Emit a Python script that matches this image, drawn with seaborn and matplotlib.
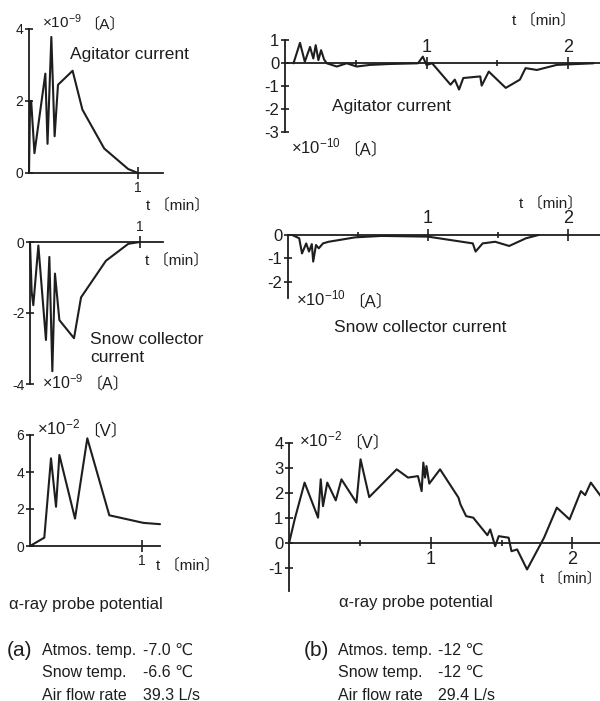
import numpy as np
import pandas as pd
import matplotlib
matplotlib.use("Agg")
import matplotlib.pyplot as plt
import seaborn as sns

# ---------------- data ----------------
# (a) agitator current  [x1e-9 A]
a_agit_t = [0.0, 0.01, 0.02, 0.05, 0.15, 0.17, 0.205, 0.235, 0.266, 0.40, 0.49, 0.69, 0.91, 1.0]
a_agit_v = [0.0, 2.0, 2.0, 0.55, 2.76, 0.81, 3.78, 1.02, 2.45, 2.84, 1.76, 0.68, 0.11, 0.0]
# (a) snow collector current [x1e-9 A]
a_snow_t = [0.0, 0.015, 0.03, 0.076, 0.145, 0.176, 0.203, 0.227, 0.267, 0.40, 0.464, 0.69, 0.894, 1.0]
a_snow_v = [0.0, -1.4, -1.78, -0.1, -2.76, -0.42, -3.64, -0.89, -2.2, -2.71, -1.56, -0.53, -0.05, 0.0]
# (a) alpha-ray probe potential [x1e-2 V]
a_alpha_t = [0.0, 0.128, 0.188, 0.233, 0.263, 0.403, 0.513, 0.71, 1.015, 1.164]
a_alpha_v = [0.0, 0.45, 4.74, 2.12, 4.92, 1.48, 5.82, 1.66, 1.25, 1.18]

# (b) agitator current [x1e-10 A]
b_agit_t = [0.06, 0.106, 0.14, 0.177, 0.2, 0.217, 0.236, 0.255, 0.276, 0.295, 0.366, 0.436,
            0.507, 0.6, 0.74, 0.94, 0.974, 1.0, 1.04, 1.17, 1.2, 1.23, 1.26, 1.38, 1.39, 1.44,
            1.56, 1.66, 1.70, 1.78, 1.92, 2.18]
b_agit_v = [0.0, 0.89, 0.07, 0.71, 0.21, 0.79, 0.14, 0.57, 0.17, 0.0, -0.14, 0.0,
            -0.14, -0.07, -0.03, 0.0, 0.29, -0.07, 0.0, -0.93, -0.71, -1.14, -0.64, -0.57, -0.97, -0.36,
            -1.07, -0.71, -0.21, -0.29, -0.07, 0.0]
# (b) snow collector current [x1e-10 A]
b_snow_t = [0.03, 0.08, 0.1, 0.13, 0.15, 0.17, 0.18, 0.2, 0.22, 0.25, 0.29, 0.48, 0.67, 1.0,
            1.32, 1.34, 1.39, 1.48, 1.58, 1.7, 1.79]
b_snow_v = [0.0, -0.14, -0.79, -0.36, -0.71, -0.39, -1.14, -0.43, -0.57, -0.36, -0.29, -0.1, -0.04, -0.07,
            -0.36, -0.71, -0.36, -0.29, -0.47, -0.14, 0.0]
# (b) alpha-ray probe potential [x1e-2 V]
b_alpha_t = [0.0, 0.04, 0.11, 0.205, 0.224, 0.24, 0.27, 0.33, 0.37, 0.476, 0.505, 0.566, 0.76, 0.84,
             0.91, 0.936, 0.948, 0.96, 0.97, 0.99, 1.066, 1.196, 1.21, 1.25, 1.30, 1.40, 1.42, 1.455,
             1.48, 1.55, 1.57, 1.61, 1.68, 1.80, 1.89, 1.98, 2.06, 2.09, 2.13, 2.2]
b_alpha_v = [0.0, 0.96, 2.43, 1.03, 2.56, 1.49, 2.43, 1.72, 2.56, 1.63, 3.36, 1.85, 2.96, 2.63,
             2.69, 2.09, 3.23, 2.63, 3.09, 2.39, 2.96, 1.83, 1.56, 1.09, 1.03, 0.33, 0.56, -0.11,
             0.29, 0.23, -0.31, -0.24, -1.04, 0.23, 1.43, 0.96, 2.09, 1.93, 2.43, 1.89]

a_ticks_top = [0, 2, 4]
a_ticks_mid = [0, -2, -4]
a_ticks_bot = [0, 2, 4, 6]
b_ticks_top = [1, 0, -1, -2, -3]
b_ticks_mid = [0, -1, -2]
b_ticks_bot = [4, 3, 2, 1, 0, -1]

cond_labels = ["Atmos. temp.", "Snow temp.", "Air flow rate"]
cond_a = ["-7.0 \u2103", "-6.6 \u2103", "39.3 L/s"]
cond_b = ["-12 \u2103", "-12 \u2103", "29.4 L/s"]

# ---------------- style ----------------
sns.set_style("white")
FAM = ["Liberation Sans", "DejaVu Sans", "Noto Sans CJK JP"]
plt.rcParams["font.family"] = FAM
plt.rcParams["axes.unicode_minus"] = False
plt.rcParams["mathtext.fontset"] = "custom"
plt.rcParams["mathtext.rm"] = "Liberation Sans"
plt.rcParams["mathtext.it"] = "Liberation Sans:italic"
plt.rcParams["mathtext.bf"] = "Liberation Sans:bold"
plt.rcParams["mathtext.default"] = "regular"
INK = "#1e1e1e"

W, H = 600, 701
fig = plt.figure(figsize=(6, 7.01), dpi=100)
fig.patch.set_facecolor("white")
overlay = fig.add_axes([0, 0, 1, 1])
overlay.set_axis_off()
overlay.set_xlim(0, W)
overlay.set_ylim(H, 0)


def add_ax(left, right, top, bottom):
    ax = fig.add_axes([left / W, 1 - bottom / H, (right - left) / W, (bottom - top) / H])
    ax.set_facecolor("none")
    return ax


def ftext(x, y, s, size=12, ha="left", va="center", **kw):
    return overlay.text(x, y, s, fontsize=size, ha=ha, va=va, color=INK, family=FAM, **kw)


def unit_text(x, y, exp, unit, size):
    t1 = overlay.text(x, y, r"$\times10^{%s}$" % exp, fontsize=size, ha="left",
                      va="baseline", color=INK)
    overlay.annotate(unit, xy=(1, 0), xycoords=t1, xytext=(2, 1.5), textcoords="offset points",
                     fontsize=size, ha="left", va="baseline", color=INK, family=FAM)


def panel(ax, t, v, xlim, ylim, yticks, xticks, xminor, labels_top, ytick_fs, xtick_fs):
    df = pd.DataFrame({"t": t, "v": v})
    sns.lineplot(data=df, x="t", y="v", ax=ax, sort=False, estimator=None,
                 color=INK, lw=1.5, clip_on=False)
    ax.set_xlim(*xlim)
    ax.set_ylim(*ylim)
    ax.set_xlabel("")
    ax.set_ylabel("")
    ax.spines["right"].set_visible(False)
    if labels_top:
        ax.spines["bottom"].set_visible(False)
        ax.spines["top"].set_position(("data", 0))
        ax.xaxis.set_ticks_position("top")
        sp = ax.spines["top"]
    else:
        ax.spines["top"].set_visible(False)
        ax.spines["bottom"].set_position(("data", 0))
        ax.xaxis.set_ticks_position("bottom")
        sp = ax.spines["bottom"]
    sp.set_linewidth(1.3)
    sp.set_color(INK)
    ax.spines["left"].set_linewidth(1.3)
    ax.spines["left"].set_color(INK)
    ax.set_yticks(yticks)
    ax.set_yticklabels([str(k) for k in yticks])
    ax.set_xticks(xticks)
    ax.set_xticklabels([str(k) for k in xticks])
    if xminor:
        ax.set_xticks(xminor, minor=True)
    ax.tick_params(axis="y", direction="inout", length=6, width=1.2, pad=1,
                   labelsize=ytick_fs, colors=INK, left=True)
    ax.tick_params(axis="x", which="major", direction="inout", length=9, width=1.2, pad=1,
                   labelsize=xtick_fs, colors=INK)
    ax.tick_params(axis="x", which="minor", direction="inout", length=4, width=1.2, colors=INK)
    ax.grid(False)


# ---------------- (a) panels ----------------
ax1 = add_ax(29, 163, 29, 173)
panel(ax1, a_agit_t, a_agit_v, (0, 134 / 109), (0, 4), a_ticks_top, [1], None, False, 10, 10)

ax2 = add_ax(30, 163, 242, 384)
panel(ax2, a_snow_t, a_snow_v, (0, 133 / 110), (-4, 0), a_ticks_mid, [1], None, True, 10, 10)

ax3 = add_ax(30, 160, 435, 546)
panel(ax3, a_alpha_t, a_alpha_v, (0, 130 / 111.7), (0, 6), a_ticks_bot, [1], None, False, 10, 10)

# ---------------- (b) panels ----------------
ax4 = add_ax(285, 600, 40.3, 132.3)
panel(ax4, b_agit_t, b_agit_v, (0, 315 / 141.5), (-3, 1), b_ticks_top, [1, 2], [0.5, 1.5], True, 12, 13)

ax5 = add_ax(288, 600, 235, 298)
panel(ax5, b_snow_t, b_snow_v, (0, 312 / 140), (-2.7, 0), b_ticks_mid, [1, 2], [0.5, 1.5], True, 12, 13)

ax6 = add_ax(289, 600, 443.3, 591)
panel(ax6, b_alpha_t, b_alpha_v, (0, 311 / 141.7), (-1.9, 4), b_ticks_bot, [1, 2], [0.5, 1.5], False, 12, 13)

# ---------------- texts ----------------
TMIN = "t \u3014min\u3015"
# (a)
unit_text(42, 28, "-9", "\u3014A\u3015", 11)
ftext(70, 55, "Agitator current", 12.5)
ftext(146, 205, TMIN, 11)
ftext(145, 260, TMIN, 11)
ftext(90, 339, "Snow collector", 12.5)
ftext(90, 357, "current", 12.5)
unit_text(42, 389, "-9", "\u3014A\u3015", 11.5)
unit_text(37, 434, "-2", "\u3014V\u3015", 12)
ftext(156, 565, TMIN, 11)
ftext(9, 604, "\u03b1-ray probe potential", 12)
# (b)
ftext(512, 20, TMIN, 11)
ftext(332, 107, "Agitator current", 12.5)
unit_text(291, 153, "-10", "\u3014A\u3015", 12)
ftext(519, 203, TMIN, 11)
unit_text(296, 305, "-10", "\u3014A\u3015", 12)
ftext(334, 327, "Snow collector current", 12.5)
unit_text(299, 446, "-2", "\u3014V\u3015", 12)
ftext(540, 579, TMIN, 10.5)
ftext(339, 603, "\u03b1-ray probe potential", 12)

# conditions
ftext(7, 650, "(a)", 15)
ftext(304, 650, "(b)", 15)
for i, (lab, va, vb) in enumerate(zip(cond_labels, cond_a, cond_b)):
    y = 650 + i * 22.5
    ftext(42, y, lab, 11.5)
    ftext(143, y, va, 11.5)
    ftext(338, y, lab, 11.5)
    ftext(438, y, vb, 11.5)

fig.savefig("out.png", dpi=100, facecolor="white")
